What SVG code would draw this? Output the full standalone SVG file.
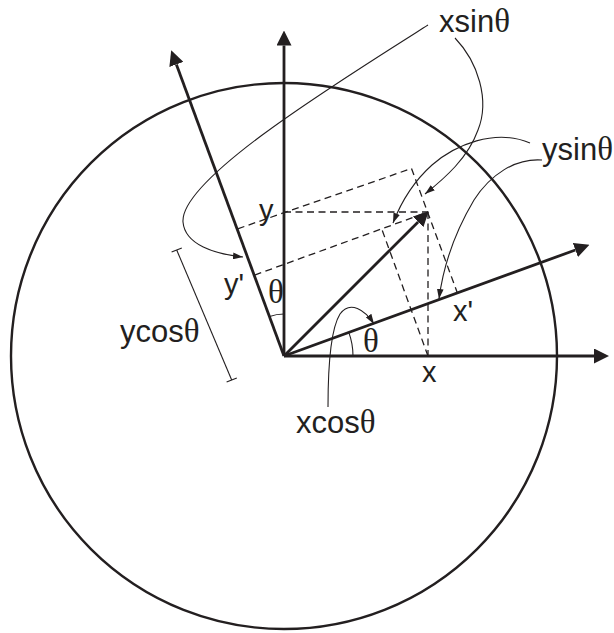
<svg xmlns="http://www.w3.org/2000/svg" width="614" height="633" viewBox="0 0 614 633">
  <style>
    .axis { stroke: #231f20; stroke-width: 2.8; fill: none; }
    .circle { stroke: #231f20; stroke-width: 2.4; fill: none; }
    .dash { stroke: #231f20; stroke-width: 1.3; fill: none; stroke-dasharray: 7 4.5; }
    .thin { stroke: #231f20; stroke-width: 1.1; fill: none; }
    .lbl { font-family: "Liberation Sans", Arial, sans-serif; font-size: 29px; fill: #231f20; }
    .big { font-size: 31px; }
    .th { font-family: "Liberation Serif", "Times New Roman", serif; font-size: 33px; }
  </style>
  <defs>
    <marker id="big" markerUnits="userSpaceOnUse" markerWidth="15" markerHeight="15" viewBox="0 0 14 14" refX="0" refY="7" orient="auto">
      <path d="M0,0 L14,7 L0,14 z" fill="#231f20"/>
    </marker>
    <marker id="small" markerUnits="userSpaceOnUse" markerWidth="10" markerHeight="7" viewBox="0 0 9 6" refX="9" refY="3" orient="auto">
      <path d="M0,0 L9,3 L0,6 z" fill="#231f20"/>
    </marker>
  </defs>

  <g id="circle">
    <circle class="circle" cx="284" cy="356" r="273"/>
  </g>

  <g id="connectors">
    <!-- axes -->
    <line class="axis" x1="284" y1="356" x2="594" y2="356" marker-end="url(#big)"/>
    <line class="axis" x1="284" y1="356" x2="284" y2="45.5" marker-end="url(#big)"/>
    <line class="axis" x1="284" y1="356" x2="176.4" y2="64.4" marker-end="url(#big)"/>
    <line class="axis" x1="284" y1="356" x2="575.4" y2="250.0" marker-end="url(#big)"/>
    <!-- vector P -->
    <line class="axis" x1="284" y1="356" x2="418.1" y2="221.9" marker-end="url(#big)"/>

    <!-- dashed projection lines -->
    <line class="dash" x1="284" y1="212" x2="428" y2="212"/>
    <line class="dash" x1="428" y1="212" x2="428" y2="356"/>
    <line class="dash" x1="237.7" y1="228.8" x2="411.5" y2="168.5"/>
    <line class="dash" x1="411.5" y1="168.5" x2="457.4" y2="292.9"/>
    <line class="dash" x1="254.6" y1="275.1" x2="428" y2="212"/>
    <line class="dash" x1="428" y1="356" x2="381.7" y2="228.9"/>

    <!-- angle arcs -->
    <path class="thin" d="M284,314 A42,42 0 0,0 269.6,316.5"/>
    <path class="thin" d="M353,356 A69,69 0 0,0 348.8,332.4"/>

    <!-- ycos dimension bar -->
    <line class="thin" x1="176.7" y1="250" x2="231.7" y2="380"/>
    <line class="thin" x1="171.6" y1="252.1" x2="181.8" y2="247.9"/>
    <line class="thin" x1="226.6" y1="382.1" x2="236.8" y2="377.9"/>

    <!-- leaders -->
    <path class="thin" d="M428,25 C330,87 180,180 183,222 C185,245 215,254 243,257" marker-end="url(#small)"/>
    <path class="thin" d="M455,38 C478,62 490,100 478,130 C468,158 445,178 425,194" marker-end="url(#small)"/>
    <path class="thin" d="M530,143 C495,128 455,145 432,165 C413,182 400,205 393,223" marker-end="url(#small)"/>
    <path class="thin" d="M542,160 C515,158 490,175 474,200 C455,232 443,268 439,299" marker-end="url(#small)"/>
    <path class="thin" d="M328,407 C328,370 330,330 340,314 C350,300 365,310 374,324" marker-end="url(#small)"/>
  </g>

  <g id="label-xsin"><text class="lbl big" x="439" y="32">xsin<tspan class="th">θ</tspan></text></g>
  <g id="label-ysin"><text class="lbl big" x="542" y="160">ysin<tspan class="th">θ</tspan></text></g>
  <g id="label-y"><text class="lbl" x="259" y="220">y</text></g>
  <g id="label-yprime"><text class="lbl" x="224" y="294">y'</text></g>
  <g id="label-theta-y"><text class="lbl th" x="268" y="303">θ</text></g>
  <g id="label-theta-x"><text class="lbl th" x="363" y="352">θ</text></g>
  <g id="label-x"><text class="lbl" x="422" y="382">x</text></g>
  <g id="label-xprime"><text class="lbl" x="453" y="321">x'</text></g>
  <g id="label-xcos"><text class="lbl big" x="296" y="433">xcos<tspan class="th">θ</tspan></text></g>
  <g id="label-ycos"><text class="lbl big" x="120" y="342">ycos<tspan class="th">θ</tspan></text></g>
</svg>
